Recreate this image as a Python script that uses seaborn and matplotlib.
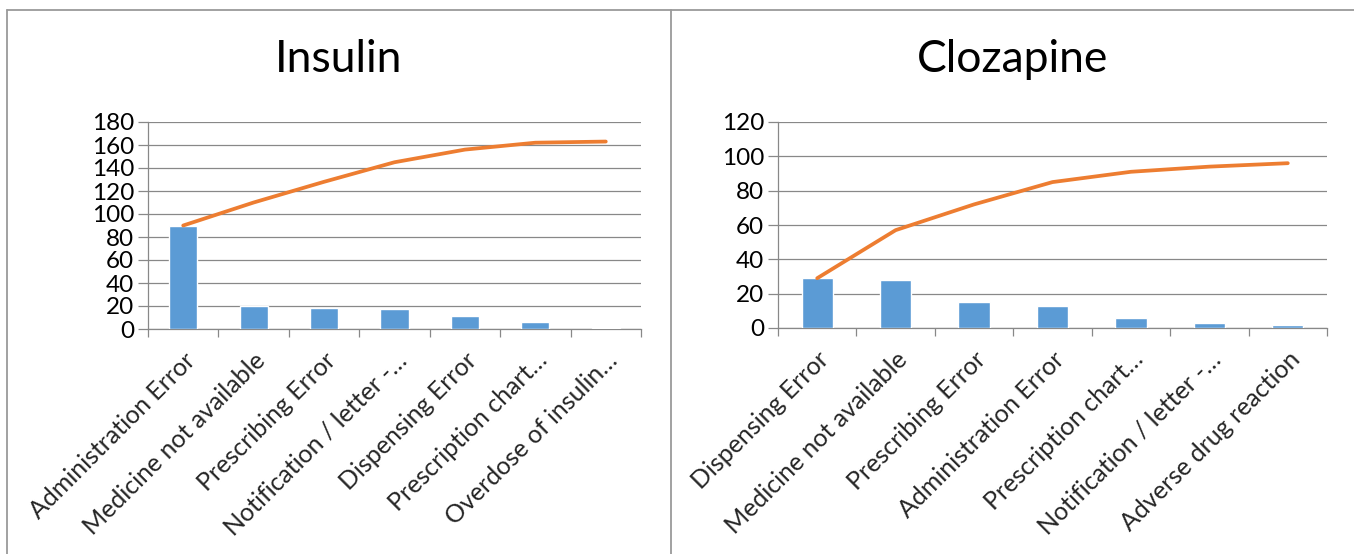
import numpy as np
import pandas as pd
import matplotlib
matplotlib.use("Agg")
import matplotlib.pyplot as plt
from matplotlib.lines import Line2D
import seaborn as sns

# Incident counts by category, sorted for the Pareto view
insulin_categories = [
    "Administration Error",
    "Medicine not available",
    "Prescribing Error",
    "Notification / letter -\u2026",
    "Dispensing Error",
    "Prescription chart\u2026",
    "Overdose of insulin\u2026",
]
insulin_counts = [90, 20, 18, 17, 11, 6, 1]

clozapine_categories = [
    "Dispensing Error",
    "Medicine not available",
    "Prescribing Error",
    "Administration Error",
    "Prescription chart\u2026",
    "Notification / letter -\u2026",
    "Adverse drug reaction",
]
clozapine_counts = [29, 28, 15, 13, 6, 3, 2]

insulin_ticks = [0, 20, 40, 60, 80, 100, 120, 140, 160, 180]
clozapine_ticks = [0, 20, 40, 60, 80, 100, 120]

BAR = "#5B9BD5"
LINE = "#ED7D31"
GRID = "#888888"

sns.set_theme(style="white")
plt.rcParams["font.family"] = ["Lato", "DejaVu Sans"]

W, H = 1354, 554
fig = plt.figure(figsize=(W / 100, H / 100), dpi=100)


def px_axes(x0, x1, y_top, y_bot):
    return fig.add_axes([x0 / W, 1 - y_bot / H, (x1 - x0) / W, (y_bot - y_top) / H])


def pareto(ax, cats, counts, ticks, title, title_x):
    df = pd.DataFrame({"category": cats, "count": counts})
    df["cumulative"] = np.cumsum(df["count"])
    sns.barplot(data=df, x="category", y="count", color=BAR, width=0.4,
                saturation=1, ax=ax, zorder=3)
    ax.plot(np.arange(len(cats)), df["cumulative"], color=LINE, lw=2.7,
            solid_capstyle="round", zorder=4)
    ax.set_xlim(-0.5, len(cats) - 0.5)
    ax.set_ylim(ticks[0], ticks[-1])
    ax.set_yticks(ticks)
    ax.set_xlabel("")
    ax.set_ylabel("")
    ax.yaxis.grid(True, color=GRID, lw=0.9, zorder=0)
    ax.set_axisbelow(True)
    for side in ("top", "right"):
        ax.spines[side].set_visible(False)
    for side in ("left", "bottom"):
        ax.spines[side].set_color(GRID)
        ax.spines[side].set_linewidth(0.9)
    ax.tick_params(axis="y", which="major", length=7, width=0.9, color=GRID,
                   labelsize=17.5, pad=3, labelcolor="black", left=True)
    ax.set_xticks(np.arange(len(cats)))
    ax.set_xticklabels(cats, rotation=45, ha="right", rotation_mode="anchor",
                       fontsize=18)
    ax.set_xticks(np.arange(len(cats) + 1) - 0.5, minor=True)
    ax.tick_params(axis="x", which="major", length=0, pad=14)
    ax.tick_params(axis="x", which="minor", length=6, width=0.9, color=GRID,
                   bottom=True)
    fig.text(title_x / W, 1 - 60 / H, title, ha="center", va="center",
             fontsize=32, color="black")


ax1 = px_axes(148, 641, 122, 329)
pareto(ax1, insulin_categories, insulin_counts, insulin_ticks, "Insulin", 339)

ax2 = px_axes(778, 1327, 122, 328)
pareto(ax2, clozapine_categories, clozapine_counts, clozapine_ticks, "Clozapine", 1013)

# Panel frames
frame = dict(color="#9a9a9a", lw=1.3, transform=fig.transFigure)
fig.add_artist(Line2D([7 / W, 1], [1 - 9.5 / H, 1 - 9.5 / H], **frame))
fig.add_artist(Line2D([7 / W, 7 / W], [0, 1 - 9.5 / H], **frame))
fig.add_artist(Line2D([671 / W, 671 / W], [0, 1 - 9.5 / H], **frame))

fig.savefig("out.png", dpi=100, facecolor="white")
